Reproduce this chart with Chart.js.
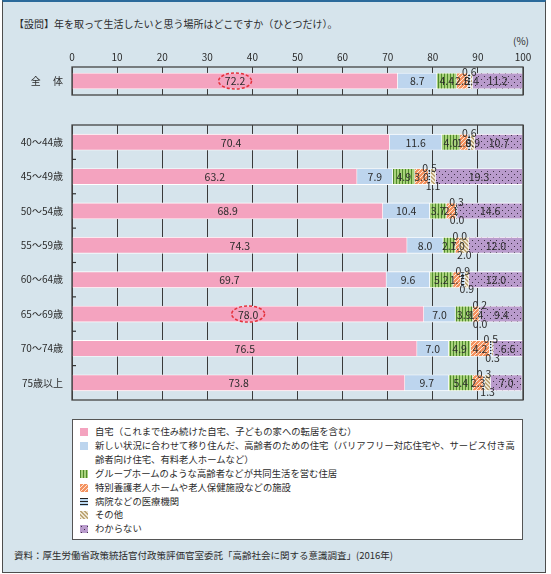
<!DOCTYPE html>
<html><head><meta charset="utf-8">
<script src="https://cdn.jsdelivr.net/npm/chart.js@4.4.1/dist/chart.umd.min.js"></script>
<style>
html,body{margin:0;padding:0;}
body{width:551px;height:574px;position:relative;overflow:hidden;background:#fff;font-family:"Noto Sans CJK JP",sans-serif;color:#2b2b2b;}
#frame{position:absolute;left:2px;top:0;width:544px;height:573px;box-sizing:border-box;background:#d6e4ec;border:1px solid #4d4d4d;border-top:2px solid #2b6a9b;}
#title{position:absolute;left:14px;top:16px;font-size:10px;line-height:16px;white-space:nowrap;}
#unit{position:absolute;left:513px;top:34px;font-size:10px;line-height:14px;white-space:nowrap;}
#cA{position:absolute;left:0;top:30px;}
#cB{position:absolute;left:0;top:110px;}
#legend{position:absolute;left:72px;top:419px;width:451px;height:121px;box-sizing:border-box;background:#fff;border:1px solid #555;padding:5px 0 0 7px;font-size:9.35px;line-height:13.9px;}
.li{position:relative;padding-left:15px;white-space:nowrap;}
.sw{position:absolute;left:0;top:3px;width:8px;height:8px;display:block;}
#source{position:absolute;left:14px;top:548px;font-size:9.5px;line-height:14px;white-space:nowrap;}
</style></head>
<body>
<div id="frame"></div>
<div id="title">【設問】年を取って生活したいと思う場所はどこですか（ひとつだけ）。</div>
<div id="unit">(%)</div>
<canvas id="cA" width="551" height="80"></canvas>
<canvas id="cB" width="551" height="305"></canvas>
<div id="legend"></div>
<div id="source">資料：厚生労働省政策統括官付政策評価官室委託「高齢社会に関する意識調査」(2016年)</div>
<script>
// ---- data ----
const categories = ['全　 体','40～44歳','45～49歳','50～54歳','55～59歳','60～64歳','65～69歳','70～74歳','75歳以上'];
const jitaku    = [72.2, 70.4, 63.2, 68.9, 74.3, 69.7, 78.0, 76.5, 73.8];
const atarashii = [8.7, 11.6, 7.9, 10.4, 8.0, 9.6, 7.0, 7.0, 9.7];
const groupHome = [4.4, 4.0, 4.9, 3.7, 2.7, 5.2, 3.9, 4.9, 5.4];
const tokuyou   = [2.5, 1.8, 3.0, 2.1, 1.0, 1.7, 1.4, 4.2, 2.3];
const byouin    = [0.6, 0.6, 0.5, 0.3, 0.0, 0.9, 0.2, 0.5, 0.3];
const sonota    = [0.4, 0.9, 1.1, 0.0, 2.0, 0.9, 0.0, 0.3, 1.3];
const wakaranai = [11.2, 10.7, 19.3, 14.6, 12.0, 12.0, 9.4, 6.6, 7.0];
const xTicks = [0, 10, 20, 30, 40, 50, 60, 70, 80, 90, 100];
const seriesNames = [
  '自宅（これまで住み続けた自宅、子どもの家への転居を含む）',
  '新しい状況に合わせて移り住んだ、高齢者のための住宅（バリアフリー対応住宅や、サービス付き高\n齢者向け住宅、有料老人ホームなど）',
  'グループホームのような高齢者などが共同生活を営む住居',
  '特別養護老人ホームや老人保健施設などの施設',
  '病院などの医療機関',
  'その他',
  'わからない'
];
const highlightRows = ['全　 体', '65～69歳'];
const otherInline = [true, true, false, false, false, false, false, false, false];

// ---- patterns ----
function pixelPattern(w, h, fn) {
  const c = document.createElement('canvas');
  c.width = w; c.height = h;
  const g = c.getContext('2d');
  for (let x = 0; x < w; x++) for (let y = 0; y < h; y++) {
    g.fillStyle = fn(x, y); g.fillRect(x, y, 1, 1);
  }
  return c;
}
const patCanvases = [
  null,
  null,
  pixelPattern(3, 3, (x) => x === 0 ? '#4f8a2b' : '#a9d27c'),
  pixelPattern(4, 4, (x, y) => ((x + y) % 4 < 3) ? '#f4925f' : '#fde6d6'),
  pixelPattern(3, 3, (x, y) => y === 0 ? '#222222' : '#bcd8f0'),
  pixelPattern(4, 4, (x, y) => ((x - y + 8) % 4 < 2) ? '#bda676' : '#efe6d2'),
  pixelPattern(6, 6, (x, y) => ((x === 1 && y === 1) || (x === 4 && y === 4)) ? '#3d3046' : '#b99bcc')
];
const solidColors = ['#f4a3bf', '#bdd5ee'];
function fillFor(ctx, i) {
  if (solidColors[i]) return solidColors[i];
  return ctx.createPattern(patCanvases[i], 'repeat');
}

// ---- legend (HTML) ----
const legend = document.getElementById('legend');
seriesNames.forEach((name, i) => {
  const d = document.createElement('div'); d.className = 'li';
  const sw = document.createElement('canvas'); sw.width = 8; sw.height = 8; sw.className = 'sw';
  const sg = sw.getContext('2d'); sg.fillStyle = fillFor(sg, i); sg.fillRect(0, 0, 8, 8);
  d.appendChild(sw);
  name.split('\n').forEach((t, k) => {
    if (k) d.appendChild(document.createElement('br'));
    d.appendChild(document.createTextNode(t));
  });
  legend.appendChild(d);
});

// ---- plugins ----
const segLabels = {
  id: 'segLabels',
  afterDatasetsDraw(chart, args, opts) {
    const ctx = chart.ctx;
    ctx.save();
    ctx.font = '10.5px "Noto Sans CJK JP", sans-serif';
    ctx.fillStyle = '#2b2b2b';
    ctx.textAlign = 'center'; ctx.textBaseline = 'middle';
    chart.data.datasets.forEach((ds, di) => {
      const meta = chart.getDatasetMeta(di);
      meta.data.forEach((bar, i) => {
        const row = i + opts.rowOffset;
        const v = ds.data[i];
        const cx = (bar.x + bar.base) / 2;
        let cy = bar.y;
        if (di === 4) cy -= 9.5;
        else if (di === 5 && !otherInline[row]) cy += 9;
        ctx.fillText(v.toFixed(1), cx, cy + 0.5);
        if (di === 0 && highlightRows.includes(chart.data.labels[i])) {
          ctx.save();
          ctx.strokeStyle = '#e5323c'; ctx.lineWidth = 1.5; ctx.setLineDash([3, 2]);
          ctx.beginPath(); ctx.ellipse(cx, cy, 16.5, 8, 0, 0, Math.PI * 2); ctx.stroke();
          ctx.restore();
        }
      });
    });
    ctx.restore();
  }
};
const plotFrame = {
  id: 'plotFrame',
  afterDraw(chart, args, opts) {
    const { left, top, right, bottom } = chart.chartArea;
    const ctx = chart.ctx;
    ctx.save();
    ctx.strokeStyle = '#444'; ctx.lineWidth = 1.3;
    ctx.strokeRect(left, top, right - left, bottom - top);
    if (opts.rowTicks) {
      const ys = chart.scales.y;
      ctx.lineWidth = 1.2; ctx.strokeStyle = '#333';
      for (let i = 0; i < ys.ticks.length - 1; i++) {
        const yy = (ys.getPixelForTick(i) + ys.getPixelForTick(i + 1)) / 2;
        ctx.beginPath(); ctx.moveTo(left, yy); ctx.lineTo(left + 4, yy); ctx.stroke();
      }
    }
    ctx.restore();
  }
};

function makeDatasets(ctx, from, to) {
  const series = [jitaku, atarashii, groupHome, tokuyou, byouin, sonota, wakaranai];
  return series.map((arr, i) => ({
    label: seriesNames[i],
    data: arr.slice(from, to),
    backgroundColor: fillFor(ctx, i),
    borderColor: '#ffffff',
    borderWidth: 0.8,
    barThickness: 16
  }));
}

function makeChart(id, from, to, showTicks, xHeight, padBottom, rowTicks) {
  const el = document.getElementById(id);
  const ctx = el.getContext('2d');
  return new Chart(ctx, {
    type: 'bar',
    data: { labels: categories.slice(from, to), datasets: makeDatasets(ctx, from, to) },
    options: {
      indexAxis: 'y',
      responsive: false,
      animation: false,
      events: [],
      layout: { padding: { left: 0, right: 28, top: 0, bottom: padBottom } },
      plugins: {
        legend: { display: false }, tooltip: { enabled: false },
        segLabels: { rowOffset: from },
        plotFrame: { rowTicks: rowTicks }
      },
      scales: {
        x: {
          stacked: true, position: 'top', min: 0, max: 100,
          afterBuildTicks: (s) => { s.ticks = xTicks.map(v => ({ value: v })); },
          ticks: { display: showTicks, color: '#2b2b2b', padding: 4, maxRotation: 0,
                   font: { family: '"Noto Sans CJK JP", sans-serif', size: 10 } },
          grid: { color: '#3a3a3a', lineWidth: 1, drawTicks: false },
          border: { display: false },
          afterFit: (s) => { s.height = xHeight; }
        },
        y: {
          stacked: true,
          grid: { display: false, drawTicks: false },
          border: { display: false },
          ticks: { color: '#2b2b2b', padding: 9,
                   font: { family: '"Noto Sans CJK JP", sans-serif', size: 10 } },
          afterFit: (s) => { s.width = 72; }
        }
      }
    },
    plugins: [segLabels, plotFrame]
  });
}
makeChart('cA', 0, 1, true, 37, 6, false);
makeChart('cB', 1, 9, false, 5, 7, true);
</script>
</body></html>
